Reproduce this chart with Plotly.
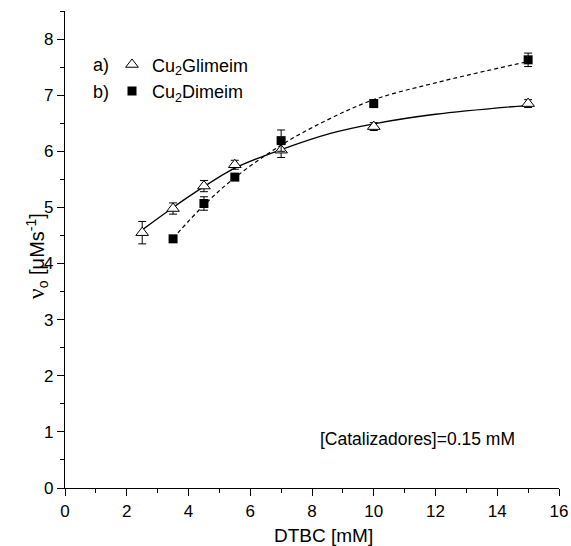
import plotly.graph_objects as go

# Measured data (DTBC concentration in mM, initial rate in uM/s)
x_glim = [2.5, 3.5, 4.5, 5.5, 7, 10, 15]
y_glim = [4.55, 4.98, 5.38, 5.76, 6.02, 6.44, 6.85]
e_glim = [0.2, 0.1, 0.1, 0.08, 0.13, 0.07, 0.07]

x_dim = [3.5, 4.5, 5.5, 7, 10, 15]
y_dim = [4.44, 5.07, 5.54, 6.19, 6.85, 7.63]
e_dim = [0.04, 0.12, 0.05, 0.19, 0.06, 0.12]

# Fitted curves
fit_glim_x = [2.5, 3.5, 4.5, 5.5, 7, 8.6, 10, 12, 15]
fit_glim_y = [4.6, 5.0, 5.37, 5.7, 6.03, 6.32, 6.49, 6.66, 6.82]
fit_dim_x = [3.5, 4.5, 5.5, 7, 8.5, 10, 12, 15]
fit_dim_y = [4.45, 5.04, 5.53, 6.11, 6.56, 6.92, 7.22, 7.6]

x_ticks = [0, 2, 4, 6, 8, 10, 12, 14, 16]
y_ticks = [0, 1, 2, 3, 4, 5, 6, 7, 8]

FONT = "Liberation Sans, Arial, sans-serif"

fig = go.Figure()
fig.add_trace(go.Scatter(x=fit_glim_x, y=fit_glim_y, mode="lines",
                         line=dict(color="black", width=1.3, shape="spline"),
                         showlegend=False, hoverinfo="skip"))
fig.add_trace(go.Scatter(x=fit_dim_x, y=fit_dim_y, mode="lines",
                         line=dict(color="black", width=1.2, shape="spline", dash="4px,3px"),
                         showlegend=False, hoverinfo="skip"))
fig.add_trace(go.Scatter(x=x_glim, y=y_glim, mode="markers", name="Cu<sub>2</sub>Glimeim",
                         marker=dict(symbol="triangle-up", size=11, color="white",
                                     line=dict(color="black", width=1)),
                         error_y=dict(type="data", array=e_glim, color="black", thickness=1, width=4)))
fig.add_trace(go.Scatter(x=x_dim, y=y_dim, mode="markers", name="Cu<sub>2</sub>Dimeim",
                         marker=dict(symbol="square", size=9, color="black",
                                     line=dict(color="black", width=0)),
                         error_y=dict(type="data", array=e_dim, color="black", thickness=1, width=4)))

axis_common = dict(showgrid=False, zeroline=False, showline=True, linecolor="black",
                   linewidth=1.4, ticks="outside", ticklen=7, tickwidth=1.3, tickcolor="black",
                   automargin=False,
                   tickfont=dict(family=FONT, size=17, color="black"))

fig.update_xaxes(range=[0, 16], tickvals=x_ticks, ticktext=[str(v) for v in x_ticks],
                 minor=dict(dtick=1, ticklen=4, ticks="outside", tickcolor="black", tickwidth=1.3),
                 **axis_common)
fig.update_yaxes(range=[0, 8.5], tickvals=y_ticks, ticktext=[str(v) for v in y_ticks],
                 minor=dict(dtick=0.5, ticklen=4, ticks="outside", tickcolor="black", tickwidth=1.3),
                 **axis_common)

PW, PH = 494.0, 477.3

def px(xp):
    return (xp - 65) / PW

def py(yp):
    return (488 - yp) / PH

fig.update_layout(
    width=571, height=546, autosize=False,
    margin=dict(l=65, r=12, t=11, b=58),
    paper_bgcolor="white", plot_bgcolor="white",
    font=dict(family=FONT, color="black"),
    legend=dict(x=px(112), y=py(46), xanchor="left", yanchor="top",
                bgcolor="rgba(0,0,0,0)", font=dict(family=FONT, size=18, color="black"),
                tracegroupgap=0, itemwidth=30),
    annotations=[
        dict(text="<span style='font-family:Liberation Serif, serif;font-size:24px'>ν</span>"
                  "<sub>o</sub> [μMs<sup>-1</sup>]", xref="paper", yref="paper",
             x=px(37), y=py(256), textangle=-90, showarrow=False,
             font=dict(family=FONT, size=20, color="black"), xanchor="center", yanchor="middle"),
        dict(text="DTBC [mM]", xref="paper", yref="paper",
             x=px(323), y=py(536), showarrow=False, xanchor="center", yanchor="middle",
             font=dict(family=FONT, size=19, color="black")),
        dict(text="[Catalizadores]=0.15 mM", xref="paper", yref="paper",
             x=px(318), y=py(439), showarrow=False, xanchor="left", yanchor="middle",
             font=dict(family=FONT, size=17.5, color="black")),
        dict(text="a)", xref="paper", yref="paper", x=px(91), y=py(65),
             showarrow=False, xanchor="left", yanchor="middle",
             font=dict(family=FONT, size=18, color="black")),
        dict(text="b)", xref="paper", yref="paper", x=px(91), y=py(92),
             showarrow=False, xanchor="left", yanchor="middle",
             font=dict(family=FONT, size=18, color="black")),
    ],
)

fig.write_html("out.html")
